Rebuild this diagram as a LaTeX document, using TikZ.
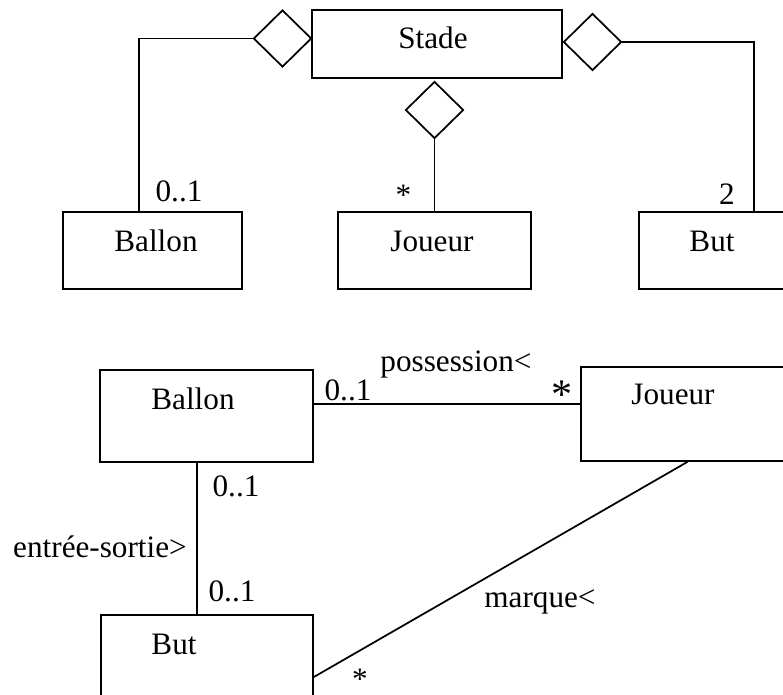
\documentclass[tikz,border=0pt]{standalone}
\usepackage{fontspec}
\setmainfont{Liberation Serif}
\usetikzlibrary{shapes.geometric}
\usetikzlibrary{calc}

\tikzset{
  classe/.style={draw, rectangle, inner sep=0pt, line width=1.3pt},
  losange/.style={draw, diamond, inner sep=0pt, minimum width=43.5pt, minimum height=42.75pt, line width=1.3pt},
  lien/.style={line width=1.3pt},
  txt/.style={anchor=base, inner sep=0pt}
}

\begin{document}
\begin{tikzpicture}[x=0.75pt,y=0.75pt,yscale=-1,xscale=1,font=\fontsize{23.4pt}{28pt}\selectfont]
\useasboundingbox (0,0) rectangle (783,695);
\clip (0,0) rectangle (783,695);

%Shape: Rectangle [stade]
\node [classe, minimum width=187.5pt, minimum height=51pt] (stade) at (437,44) {};
%Shape: Rectangle [ballon, joueur, but - haut]
\node [classe, minimum width=134.25pt, minimum height=57.75pt] (ballonA) at (152.5,250.5) {};
\node [classe, minimum width=144.75pt, minimum height=57.75pt] (joueurA) at (434.5,250.5) {};
\node [classe, minimum width=135pt, minimum height=57.75pt] (butA) at (729,250.5) {};
%Shape: Diamond
\node [losange] (dg) at (282.5,38.5) {};
\node [losange] (dd) at (592.5,42) {};
\node [losange] (dm) at (434.5,110) {};

%Straight Lines [aggregations]
\draw [lien] (dg.west) -| ($(ballonA.north)+(-13.5,0)$);
\draw [lien] (dd.east) -| ($(butA.north)+(25,0)$);
\draw [lien] (dm.south) -- (joueurA.north);

%Shape: Rectangle [ballon, joueur, but - bas]
\node [classe, minimum width=159.75pt, minimum height=69pt] (ballonB) at (206.5,416) {};
\node [classe, minimum width=159.75pt, minimum height=70.5pt] (joueurB) at (687.5,414) {};
\node [classe, minimum width=159pt, minimum height=69pt] (butB) at (207,661) {};

%Straight Lines [associations]
\coordinate (pa) at ($(ballonB.east)+(0,-12)$);
\draw [lien] (pa) -- (joueurB.west |- pa);
\draw [lien] ($(ballonB.south)+(-9.5,0)$) -- ($(butB.north)+(-10,0)$);
\draw [lien] (joueurB.south) -- ($(butB.east)+(0,16)$);

% Text Node
\node [txt] (tstade) at (433,49) {Stade};
\node [txt] (tballonA) at (156,252) {Ballon};
\node [txt] (tjoueurA) at (432,252) {Joueur};
\node [txt] (tbutA) at (712,252) {But};
\node [txt] (m1) at (179,202) {0..1};
\node [txt] (m2) at (403.5,206) {*};
\node [txt] (m3) at (727,205) {2};

% Text Node
\node [txt] (tballonB) at (193,410) {Ballon};
\node [txt] (tjoueurB) at (673,405) {Joueur};
\node [txt] (tbutB) at (174,654) {But};
\node [txt] (tposs) at (456,372) {possession<};
\node [txt] (m4) at (348,401) {0..1};
\node [txt, scale=1.35] (m5) at (562,409) {*};
\node [txt] (m6) at (236,497) {0..1};
\node [txt] (tentree) at (100,558) {entrée-sortie>};
\node [txt] (m7) at (232,602) {0..1};
\node [txt] (tmarque) at (540,608) {marque<};
\node [txt] (m8) at (360,689) {*};

\end{tikzpicture}
\end{document}
